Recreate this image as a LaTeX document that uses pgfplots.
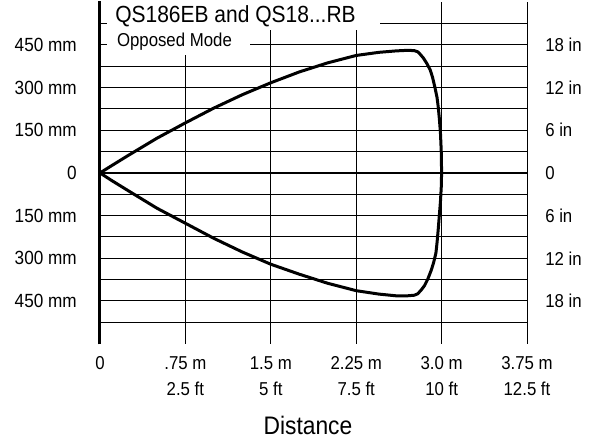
\documentclass[border=0pt]{standalone}
\usepackage{pgfplots}
\pgfplotsset{compat=1.18}
\usepackage{fontspec}
\setmainfont{Liberation Sans}[FakeStretch=0.9]
\usetikzlibrary{calc}
\begin{document}
\begin{tikzpicture}
\begin{axis}[
  scale only axis,
  width=320.25pt, height=256pt,
  xmin=0, xmax=3.75, ymin=-600, ymax=600,
  axis line style={draw=none},
  major tick length=0pt,
  clip=false,
  xtick={0,0.75,1.5,2.25,3.0,3.75},
  xticklabels={0,{.75 m\\2.5 ft},{1.5 m\\5 ft},{2.25 m\\7.5 ft},{3.0 m\\10 ft},{3.75 m\\12.5 ft}},
  xticklabel style={align=center, inner sep=0pt, anchor=north, yshift=-9.5pt, font=\fontsize{14}{19.5}\selectfont},
  ytick={-525,-450,-375,-300,-225,-150,-75,0,75,150,225,300,375,450,525},
  yticklabels={,450 mm,,300 mm,,150 mm,,0,,150 mm,,300 mm,,450 mm,},
  yticklabel style={inner sep=0pt, anchor=east, xshift=-17.25pt, font=\fontsize{14.3}{14.3}\selectfont},
  grid=major,
  grid style={black, line width=0.75pt},
  xlabel={Distance},
  xlabel style={font=\fontsize{19}{19}\selectfont, at={(axis description cs:0.487,0)}, anchor=center, yshift=-61.6pt, inner sep=0pt},
]
\fill[white] (axis cs:0.0615,504) rectangle (axis cs:2.459,620);
\fill[white] (axis cs:0.0615,416) rectangle (axis cs:1.317,504);
\node[anchor=base west, inner sep=0pt, font=\fontsize{17.5}{17.5}\selectfont] at (axis cs:0.132,529.5) {QS186EB and QS18...RB};
\node[anchor=base west, inner sep=0pt, font=\fontsize{14}{14}\selectfont] at (axis cs:0.147,445) {Opposed Mode};
\addplot[black, line width=1.5pt] coordinates {(0,0) (3.75,0)};
\addplot[black, line width=2.25pt] coordinates {(0,-603) (0,603)};
\addplot[black, line width=2.25pt, line join=round] coordinates {
(0,0) (0.1,25) (0.25,62) (0.5,122) (0.75,176) (1.0,228) (1.25,275) (1.5,317)
(1.75,355) (2.0,387) (2.25,413) (2.45,424) (2.6,429) (2.7,431) (2.76,430)
(2.79,426) (2.81,418) (2.84,404) (2.87,385) (2.90,362) (2.92,337) (2.94,303)
(2.96,265) (2.97,233) (2.98,192) (2.99,140) (2.997,75) (3.0,0)};
\addplot[black, line width=2.25pt, line join=round] coordinates {
(0,0) (0.1,-26) (0.25,-63) (0.5,-124) (0.75,-177) (1.0,-230) (1.25,-278) (1.5,-321)
(1.75,-356) (2.0,-388) (2.25,-414) (2.45,-426) (2.6,-432) (2.7,-432) (2.76,-430)
(2.79,-425) (2.82,-412) (2.85,-396) (2.88,-372) (2.91,-341) (2.93,-315) (2.95,-282)
(2.96,-245) (2.97,-200) (2.98,-150) (2.99,-100) (2.997,-50) (3.0,0)};
\end{axis}
\begin{axis}[
  scale only axis,
  width=320.25pt, height=256pt,
  xmin=0, xmax=3.75, ymin=-600, ymax=600,
  axis line style={draw=none},
  major tick length=0pt,
  xtick=\empty,
  yticklabel pos=right,
  ytick={-450,-300,-150,0,150,300,450},
  yticklabels={18 in,12 in,6 in,0,6 in,12 in,18 in},
  yticklabel style={inner sep=0pt, anchor=west, xshift=13.5pt, font=\fontsize{14}{14}\selectfont},
]
\end{axis}
\pgfresetboundingbox
\path[use as bounding box] ($(current axis.south west)+(-75pt,-76pt)$) rectangle ($(current axis.north east)+(49.5pt,1.7pt)$);
\end{tikzpicture}
\end{document}
